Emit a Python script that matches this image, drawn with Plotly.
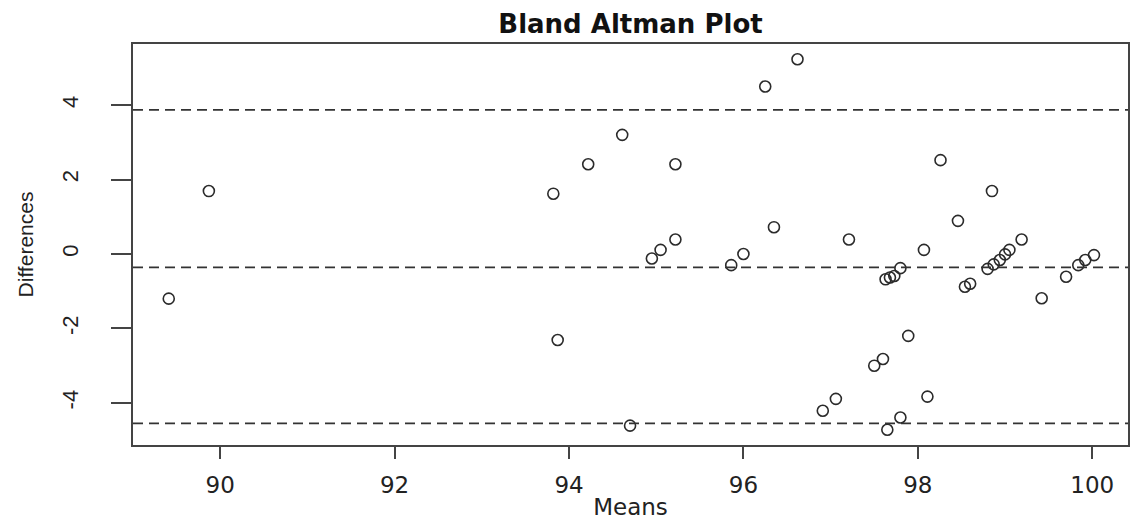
import plotly.graph_objects as go

# Data
means = [89.41, 89.87, 93.82, 93.87, 94.22, 94.61, 94.70, 94.95, 95.05, 95.22,
         95.22, 95.86, 96.00, 96.25, 96.35, 96.62, 96.91, 97.06, 97.21, 97.50,
         97.60, 97.63, 97.68, 97.73, 97.80, 97.65, 97.80, 97.89, 98.07, 98.11,
         98.26, 98.46, 98.54, 98.60, 98.80, 98.87, 98.94, 99.00, 99.05, 98.85,
         99.19, 99.42, 99.70, 99.84, 99.92, 100.02]
differences = [-1.20, 1.69, 1.62, -2.31, 2.41, 3.20, -4.61, -0.12, 0.11, 2.41,
               0.39, -0.30, 0.00, 4.50, 0.72, 5.23, -4.21, -3.89, 0.39, -3.00,
               -2.82, -0.68, -0.63, -0.59, -0.38, -4.72, -4.39, -2.20, 0.11, -3.83,
               2.52, 0.89, -0.88, -0.80, -0.40, -0.28, -0.16, -0.01, 0.11, 1.69,
               0.39, -1.19, -0.61, -0.30, -0.16, -0.03]
reference_lines = [3.87, -0.36, -4.55]   # upper LoA, mean difference, lower LoA
x_ticks = [90, 92, 94, 96, 98, 100]
y_ticks = [-4, -2, 0, 2, 4]

ink = "#2b2b2b"

fig = go.Figure()
fig.add_trace(go.Scatter(
    x=means, y=differences, mode="markers",
    marker=dict(symbol="circle-open", size=11, color=ink, line=dict(width=1.6, color=ink)),
    showlegend=False, hoverinfo="x+y"))

for yv in reference_lines:
    fig.add_hline(y=yv, line=dict(color="#333333", width=1.6, dash="10px,6px"))

# the page body adds an 8px offset, so the figure is 8px smaller and margins shifted
fig.update_layout(
    width=1130, height=517,
    paper_bgcolor="white", plot_bgcolor="white",
    margin=dict(l=125, r=10, t=36, b=80, autoexpand=False),
    title=dict(text="<b>Bland Altman Plot</b>", x=0.5, xref="paper", xanchor="center",
               y=1 - 16 / 517, yanchor="middle", yref="container", pad=dict(t=0, b=0),
               font=dict(family="DejaVu Sans", size=26, color="#111")),
    font=dict(family="Liberation Sans", color="#222"),
)

fig.update_xaxes(
    range=[89.0, 100.41], tickvals=x_ticks, ticktext=[str(v) for v in x_ticks],
    showgrid=False, zeroline=False, showline=True, mirror=True,
    linecolor="#444", linewidth=2,
    ticks="outside", ticklen=12, tickwidth=2, tickcolor="#444",
    tickfont=dict(family="DejaVu Sans", size=23, color="#222"),
    ticklabelstandoff=6,
    title=dict(text="Means", standoff=2,
               font=dict(family="DejaVu Sans", size=23, color="#222")),
)
fig.update_yaxes(
    range=[-5.13, 5.64], tickvals=y_ticks, ticktext=[str(v) for v in y_ticks],
    showgrid=False, zeroline=False, showline=True, mirror=True,
    linecolor="#444", linewidth=2,
    ticks="outside", ticklen=20, tickwidth=1.5, tickcolor="#444",
    tickangle=-90,
    tickfont=dict(family="Liberation Sans", size=22, color="#222"),
    ticklabelstandoff=24,
    title=dict(text="Differences", standoff=19,
               font=dict(family="Liberation Sans", size=21, color="#222")),
)

fig.write_html("out.html")
